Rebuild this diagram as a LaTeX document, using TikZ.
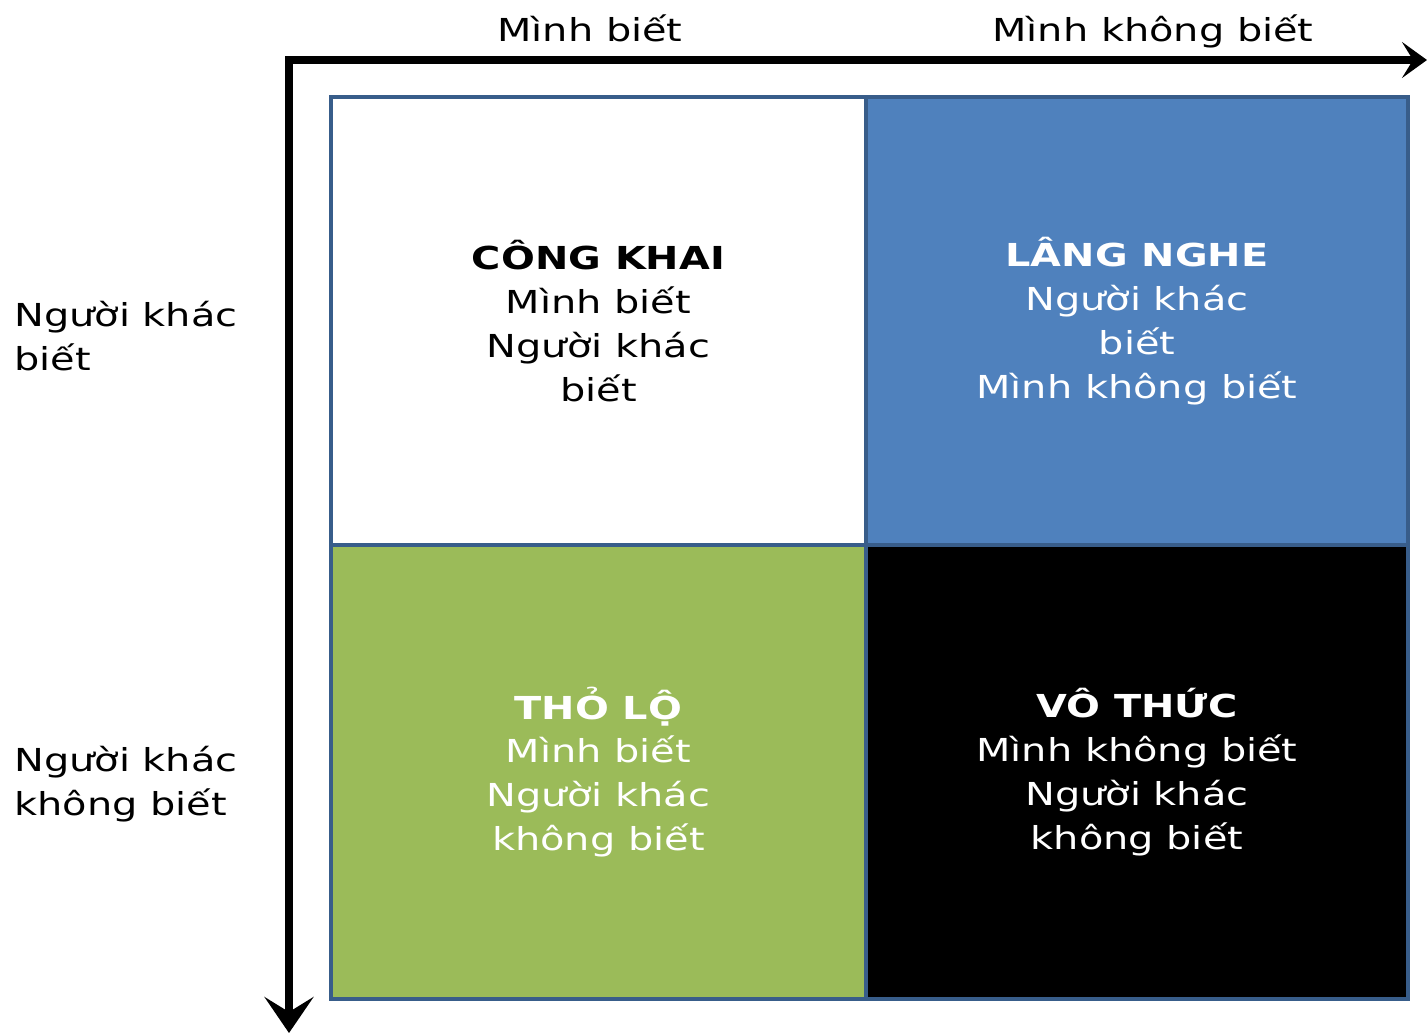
\documentclass[tikz,border=0pt]{standalone}
\usepackage{fontspec}
\setmainfont{DejaVu Sans}[FakeStretch=1.26]
\usetikzlibrary{arrows.meta}

\definecolor{cellblue}{HTML}{4F81BD}
\definecolor{cellgreen}{HTML}{9BBB59}
\definecolor{cellline}{HTML}{385D8A}

\begin{document}
\begin{tikzpicture}[x=.02cm, y=-.02cm,
    lbl/.style={inner sep=0, font=\fontsize{18}{25}\selectfont},
    cell/.style={draw=cellline, line width=2pt, inner sep=0, outer sep=0, anchor=north west, align=center, font=\fontsize{18}{25}\selectfont},
    axis/.style={line width=4pt, line join=miter}]

\useasboundingbox (0,0) rectangle (1427,1034);

% the two axes
\coordinate (corner) at (289,60);
\coordinate (xend) at (1427,60);
\coordinate (yend) at (289,1033);
\draw [axis, {Stealth[length=.5cm, width=.72cm, inset=.22cm]}-{Stealth[length=.72cm, width=.98cm, inset=.3cm]}] (xend) -- (corner) -- (yend);

% the four cells
\node [cell, fill=white, text=black, minimum width=10.7cm, minimum height=8.96cm] (open) at (331,97)
  {\textbf{CÔNG KHAI}\\Mình biết\\Người khác\\biết};
\node [cell, fill=cellblue, text=white, minimum width=10.84cm, minimum height=8.96cm] (blind) at (866,97)
  {\textbf{LÂNG NGHE}\\Người khác\\biết\\Mình không biết};
\node [cell, fill=cellgreen, text=white, minimum width=10.7cm, minimum height=9.08cm] (hidden) at (331,545)
  {\textbf{THỎ LỘ}\\Mình biết\\Người khác\\không biết};
\node [cell, fill=black, text=white, minimum width=10.84cm, minimum height=9.08cm] (unknown) at (866,545)
  {\textbf{VÔ THỨC}\\Mình không biết\\Người khác\\không biết};

% axis labels
\node [lbl, anchor=base] (selfknow) at (590,42) {Mình biết};
\node [lbl, anchor=base] (selfnot) at (1153,42) {Mình không biết};
\node [lbl, anchor=base west, align=left] (othersknow) at (14,370) {Người khác\\biết};
\node [lbl, anchor=base west, align=left] (othersnot) at (14,815) {Người khác\\không biết};

\end{tikzpicture}
\end{document}
